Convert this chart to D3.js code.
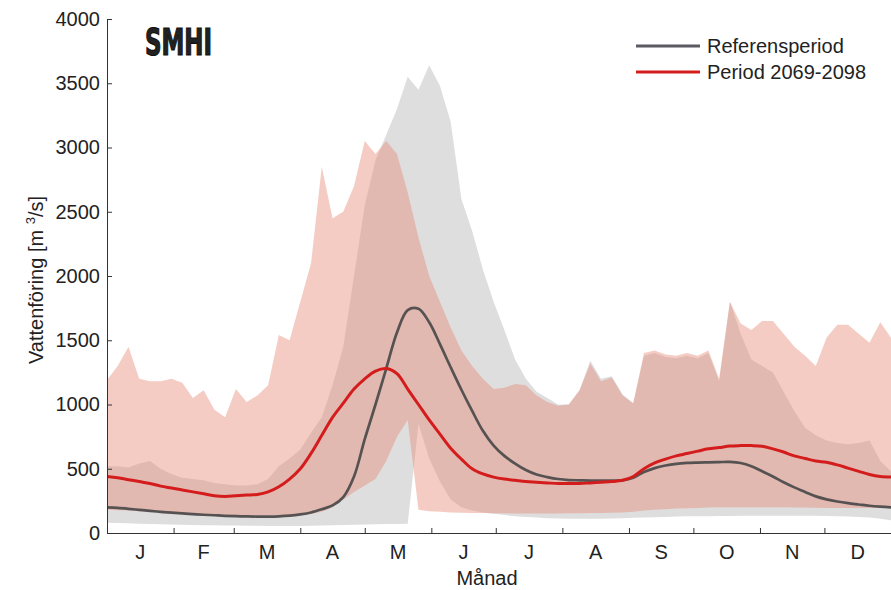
<!DOCTYPE html>
<html>
<head>
<meta charset="utf-8">
<script src="https://cdn.jsdelivr.net/npm/d3@7"></script>
<style>
  html, body { margin: 0; padding: 0; background: #fff; }
  svg { display: block; }
  text { font-family: "Liberation Sans", Arial, sans-serif; fill: #222; }
</style>
</head>
<body>
<svg id="chart" width="891" height="590"></svg>
<script>
// Day-of-year grid (every 5 days) on which all series are sampled
const days = d3.range(0, 366, 5);

// Month boundaries (day of year) and month initials
const monthStarts = [0, 31, 59, 90, 120, 151, 181, 212, 243, 273, 304, 334, 365];
const monthLabels = ["J", "F", "M", "A", "M", "J", "J", "A", "S", "O", "N", "D"];

// Y axis ticks, m3/s
const yTicks = [0, 500, 1000, 1500, 2000, 2500, 3000, 3500, 4000];

// Reference period: mean discharge
const refMean = [200, 195, 188, 180, 172, 165, 158, 152, 147, 142, 138, 134, 131, 129, 128, 128, 130, 135,
  145, 160, 185, 215, 280, 440, 730, 1000, 1280, 1560, 1735, 1745, 1640, 1470, 1290, 1115, 950, 795, 680,
  600, 540, 490, 455, 435, 420, 412, 410, 408, 408, 408, 410, 430, 475, 505, 525, 538, 545, 548, 550, 552,
  553, 545, 520, 480, 440, 395, 355, 320, 285, 262, 245, 232, 222, 212, 205, 200];

// Reference period: lowest and highest values
const refLow = [80, 78, 75, 72, 70, 68, 66, 64, 62, 60, 60, 58, 58, 56, 56, 55, 55, 55, 55, 56, 58, 60,
  62, 64, 66, 68, 70, 70, 72, 850, 580, 400, 260, 200, 175, 160, 150, 140, 130, 125, 120, 115, 112, 110,
  110, 110, 110, 112, 115, 118, 120, 122, 125, 128, 130, 130, 130, 132, 132, 134, 135, 135, 135, 135, 135,
  135, 134, 132, 130, 128, 125, 120, 110, 100];
const refHigh = [520, 520, 510, 540, 560, 500, 460, 430, 420, 410, 390, 380, 370, 370, 380, 420, 520, 580,
  650, 780, 900, 1150, 1450, 2000, 2550, 2900, 3100, 3300, 3550, 3450, 3640, 3480, 3200, 2600, 2350, 2050,
  1800, 1580, 1350, 1200, 1100, 1050, 1000, 1000, 1110, 1340, 1200, 1220, 1080, 1010, 1380, 1400, 1370,
  1360, 1380, 1360, 1400, 1180, 1800, 1550, 1350, 1300, 1250, 1100, 950, 820, 760, 720, 700, 690, 700,
  720, 560, 480];

// Period 2069-2098: mean discharge
const futMean = [440, 430, 415, 400, 385, 365, 350, 335, 320, 305, 290, 285, 290, 295, 300, 320, 360, 420,
  500, 620, 760, 900, 1010, 1120, 1200, 1260, 1280, 1240, 1120, 1000, 880, 770, 660, 575, 500, 460, 435,
  420, 410, 400, 395, 390, 385, 385, 385, 390, 395, 400, 410, 440, 500, 545, 575, 600, 618, 637, 655, 665,
  677, 680, 680, 675, 655, 630, 600, 580, 560, 550, 530, 505, 480, 455, 440, 436];

// Period 2069-2098: lowest and highest values
const futLow = [180, 178, 175, 170, 165, 160, 158, 155, 150, 148, 145, 142, 140, 138, 137, 137, 138, 140,
  145, 150, 165, 200, 260, 320, 370, 420, 560, 750, 880, 180, 170, 165, 160, 158, 156, 155, 154, 153, 152,
  152, 152, 152, 152, 153, 154, 155, 156, 158, 160, 165, 175, 180, 185, 190, 192, 195, 198, 200, 200, 200,
  200, 200, 200, 200, 198, 198, 196, 195, 195, 195, 195, 195, 195, 195];
const futHigh = [1190, 1300, 1450, 1200, 1180, 1180, 1200, 1170, 1050, 1110, 960, 900, 1120, 1020, 1070,
  1150, 1540, 1500, 1800, 2100, 2850, 2450, 2500, 2700, 3050, 2950, 3050, 2950, 2650, 2300, 2000, 1800,
  1600, 1420, 1300, 1200, 1120, 1130, 1160, 1150, 1070, 1020, 990, 1000, 1110, 1320, 1180, 1210, 1070,
  1010, 1400, 1420, 1390, 1380, 1400, 1380, 1420, 1200, 1800, 1630, 1580, 1650, 1650, 1550, 1450, 1380,
  1300, 1520, 1620, 1620, 1550, 1480, 1640, 1520];

const legendNames = ["Referensperiod", "Period 2069-2098"];

const svg = d3.select("#chart");
const margin = { left: 107, right: 0, top: 19, bottom: 57 };
const W = 891, H = 590;

const x = d3.scaleLinear().domain([0, 365]).range([margin.left, W - margin.right]);
const y = d3.scaleLinear().domain([0, 4000]).range([H - margin.bottom, margin.top]);

const rows = days.map((d, i) => ({
  d, rm: refMean[i], rl: refLow[i], rh: refHigh[i], fm: futMean[i], fl: futLow[i], fh: futHigh[i]
}));

const plot = svg.append("g");
plot.append("clipPath").attr("id", "clip")
  .append("rect").attr("x", x(0)).attr("y", y(4000)).attr("width", x(365) - x(0)).attr("height", y(0) - y(4000));
const layer = plot.append("g").attr("clip-path", "url(#clip)");

// Range bands: reference in light grey, future period in translucent red on top
const band = (lo, hi) => d3.area().x(r => x(r.d)).y0(r => y(r[lo])).y1(r => y(r[hi]));
layer.append("path").datum(rows).attr("d", band("rl", "rh")).attr("fill", "#dedede");
layer.append("path").datum(rows).attr("d", band("fl", "fh"))
  .attr("fill", "rgb(230,137,118)").attr("fill-opacity", 0.43);

// Mean lines
const line = key => d3.line().x(r => x(r.d)).y(r => y(r[key])).curve(d3.curveCatmullRom.alpha(0.5));
layer.append("path").datum(rows).attr("d", line("rm"))
  .attr("fill", "none").attr("stroke", "#575252").attr("stroke-width", 2.7);
layer.append("path").datum(rows).attr("d", line("fm"))
  .attr("fill", "none").attr("stroke", "#d41c1c").attr("stroke-width", 3);

// Y axis
const yAxis = svg.append("g").attr("transform", `translate(${x(0)},0)`)
  .call(d3.axisLeft(y).tickValues(yTicks).tickSize(-5).tickPadding(7).tickFormat(d3.format("d")));
yAxis.select(".domain").attr("stroke", "#333");
yAxis.selectAll(".tick line").attr("stroke", "#333");
yAxis.selectAll(".tick text").style("font-size", "20px").style("font-family", "Liberation Sans, Arial, sans-serif").attr("fill", "#222");

// X axis: ticks at month boundaries, labels centred within each month
const xAxis = svg.append("g").attr("transform", `translate(0,${y(0)})`)
  .call(d3.axisBottom(x).tickValues(monthStarts.slice(1, 12)).tickSize(-5).tickFormat(""));
xAxis.select(".domain").attr("stroke", "#333");
xAxis.selectAll(".tick line").attr("stroke", "#333");

svg.append("g").selectAll("text").data(monthLabels).join("text")
  .attr("x", (m, i) => x((monthStarts[i] + monthStarts[i + 1]) / 2))
  .attr("y", y(0) + 26)
  .attr("text-anchor", "middle")
  .style("font-size", "20px")
  .text(m => m);

svg.append("text").attr("x", 487).attr("y", 585).attr("text-anchor", "middle")
  .style("font-size", "20px").text("Månad");

// Y axis title with superscript
const yt = svg.append("text")
  .attr("transform", "translate(43,280) rotate(-90)")
  .attr("text-anchor", "middle")
  .style("font-size", "20px");
yt.append("tspan").text("Vattenföring [m ");
yt.append("tspan").attr("dy", -8).style("font-size", "13px").text("3");
yt.append("tspan").attr("dy", 8).text("/s]");

// Logo
svg.append("text").attr("x", 145).attr("y", 55)
  .attr("textLength", 67).attr("lengthAdjust", "spacingAndGlyphs")
  .style("font-family", "Liberation Sans Narrow, DejaVu Sans Condensed, sans-serif")
  .style("font-weight", "bold").style("font-size", "37px")
  .attr("fill", "#111").attr("stroke", "#111").attr("stroke-width", 1.2)
  .text("SMHI");

// Legend
const legendColors = ["#5b5a62", "#d41c1c"];
const lg = svg.append("g");
legendNames.forEach((name, i) => {
  const ly = 46 + i * 26;
  lg.append("line").attr("x1", 636).attr("x2", 700).attr("y1", ly).attr("y2", ly)
    .attr("stroke", legendColors[i]).attr("stroke-width", 3);
  lg.append("text").attr("x", 707).attr("y", ly + 7)
    .style("font-size", "20px").text(name);
});
</script>
</body>
</html>
